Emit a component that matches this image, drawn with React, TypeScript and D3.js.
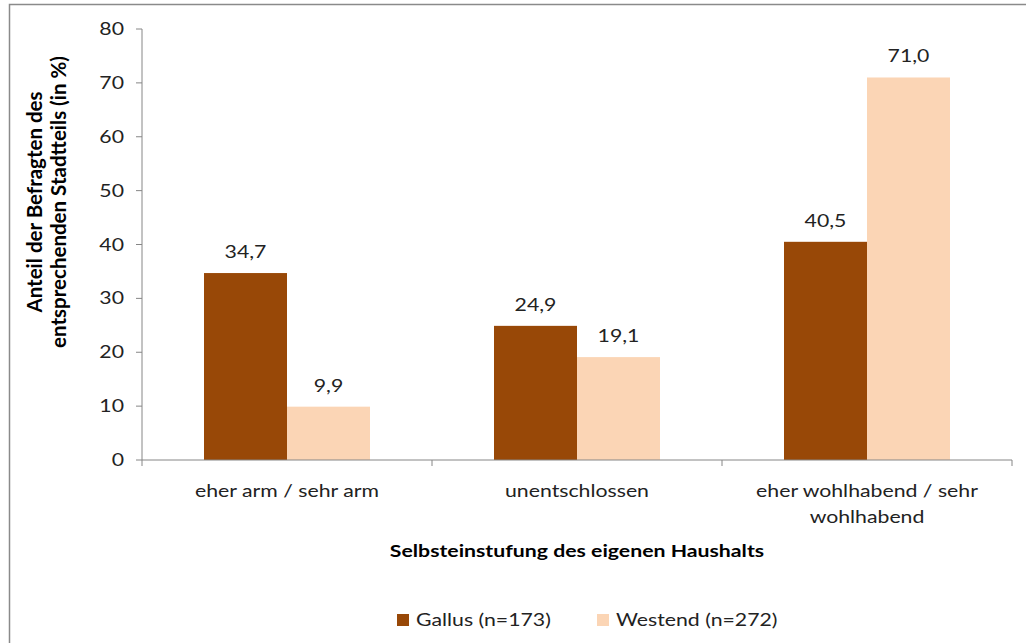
import * as d3 from "d3";

const categories = [
  ["eher arm / sehr arm"],
  ["unentschlossen"],
  ["eher wohlhabend / sehr", "wohlhabend"],
];
const series = ["Gallus (n=173)", "Westend (n=272)"];
const gallus = [34.7, 24.9, 40.5];
const westend = [9.9, 19.1, 71.0];
const yTicks = [0, 10, 20, 30, 40, 50, 60, 70, 80];

const colors = ["#984807", "#FBD5B5"];
const font = "Lato, 'Open Sans', sans-serif";
// the reference picture is stretched sideways, so the text is too
const SX = 1.25;

const T = ({
  x,
  y,
  anchor = "start",
  size = 17,
  weight = "normal",
  fill = "#222",
  children,
}: any) => (
  <text
    transform={`translate(${x},${y}) scale(${SX},1)`}
    textAnchor={anchor}
    fontSize={size}
    fontWeight={weight}
    fill={fill}
  >
    {children}
  </text>
);

const App = () => {
  const width = 1026;
  const height = 643;
  const left = 142;
  const right = 1012;
  const top = 29;
  const bottom = 460;

  const keys = categories.map((c) => c.join(" "));
  const x = d3.scaleBand().domain(keys).range([left, right]);
  const bw = x.bandwidth();
  const inner = d3
    .scaleBand()
    .domain(series)
    .range([(bw - 166) / 2, (bw + 166) / 2]);
  const y = d3.scaleLinear().domain([0, 80]).range([bottom, top]);
  const fmt = (v: number) => d3.format(".1f")(v).replace(".", ",");
  const values = [gallus, westend];

  return (
    <svg
      width={width}
      height={height}
      style={{ position: "absolute", left: 0, top: 0, background: "#fff" }}
      fontFamily={font}
    >
      <rect x={0} y={0} width={width} height={height} fill="#fff" />
      {/* frame */}
      <path d={`M9.5,${height} V4.5 H${width}`} fill="none" stroke="#8a8a8a" strokeWidth={1.5} />

      {/* y axis */}
      <line x1={left} x2={left} y1={top} y2={bottom} stroke="#868686" />
      {yTicks.map((t) => (
        <g key={t}>
          <line x1={left - 6} x2={left} y1={y(t)} y2={y(t)} stroke="#868686" />
          <T x={left - 18} y={y(t) + 6} anchor="end">
            {t}
          </T>
        </g>
      ))}

      {/* bars */}
      {values.map((vals, s) =>
        vals.map((v, i) => {
          const bx = (x(keys[i]) as number) + (inner(series[s]) as number);
          return (
            <g key={`${s}-${i}`}>
              <rect
                x={bx}
                y={y(v)}
                width={inner.bandwidth()}
                height={bottom - y(v)}
                fill={colors[s]}
              />
              <T x={bx + inner.bandwidth() / 2} y={y(v) - 15} anchor="middle">
                {fmt(v)}
              </T>
            </g>
          );
        })
      )}

      {/* x axis */}
      <line x1={left} x2={right} y1={bottom} y2={bottom} stroke="#868686" />
      {[...keys.map((k) => x(k) as number), right].map((p, i) => (
        <line key={i} x1={p} x2={p} y1={bottom} y2={bottom + 6} stroke="#868686" />
      ))}
      {categories.map((lines, i) => (
        <T key={i} x={(x(keys[i]) as number) + bw / 2} y={497} anchor="middle">
          {lines.map((l, j) => (
            <tspan key={j} x={0} dy={j === 0 ? 0 : 26}>
              {l}
            </tspan>
          ))}
        </T>
      ))}

      {/* axis titles */}
      <T x={577} y={557} anchor="middle" weight="bold" fill="#000">
        Selbsteinstufung des eigenen Haushalts
      </T>
      <text
        transform="translate(42,202) rotate(-90)"
        textAnchor="middle"
        fontSize={20.5}
        fontWeight="bold"
        fill="#000"
      >
        <tspan x={0} dy={0}>Anteil der Befragten des</tspan>
        <tspan x={0} dy={24}>entsprechenden Stadtteils (in %)</tspan>
      </text>

      {/* legend */}
      {series.map((s, i) => {
        const lx = [397, 597][i];
        return (
          <g key={s}>
            <rect x={lx} y={614} width={12} height={12} fill={colors[i]} />
            <T x={lx + 19} y={626}>
              {s}
            </T>
          </g>
        );
      })}
    </svg>
  );
};

export default App;
